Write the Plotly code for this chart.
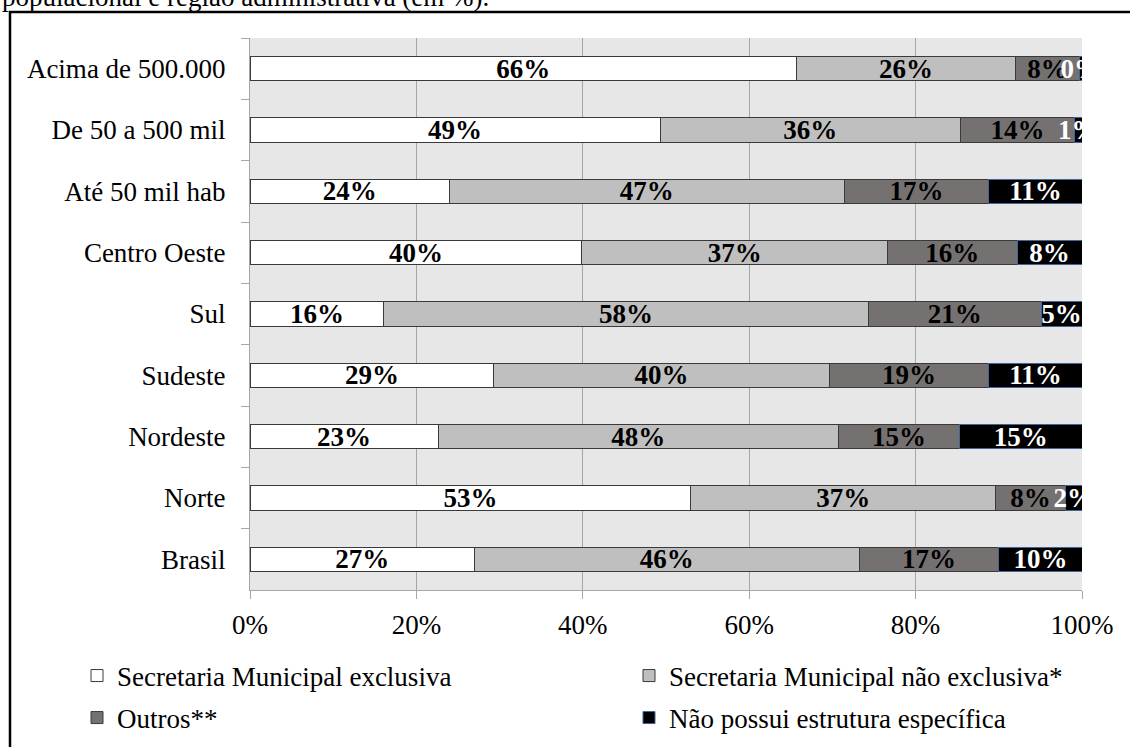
import plotly.graph_objects as go

# Categories, listed from top to bottom of the chart
categories = ["Acima de 500.000", "De 50 a 500 mil", "Até 50 mil hab", "Centro Oeste",
              "Sul", "Sudeste", "Nordeste", "Norte", "Brasil"]

# Share of municipalities (%) by type of management structure
exclusiva = [65.7, 49.3, 24.0, 39.9, 16.1, 29.3, 22.6, 53.0, 27.0]
nao_exclusiva = [26.3, 36.1, 47.4, 36.7, 58.2, 40.3, 48.1, 36.6, 46.2]
outros = [7.7, 13.7, 17.4, 15.6, 20.8, 19.2, 14.6, 8.4, 16.8]
sem_estrutura = [0.3, 0.9, 11.2, 7.8, 4.9, 11.2, 14.7, 2.0, 10.0]

series_names = ["Secretaria Municipal exclusiva", "Secretaria Municipal não exclusiva*",
                "Outros**", "Não possui estrutura específica"]

x_ticks = [0, 20, 40, 60, 80, 100]

FONT = "Liberation Serif, Times New Roman, serif"
W, H = 1130, 747
ML, MR, MT, MB = 250, 48, 38, 157
PW, PH = W - ML - MR, H - MT - MB


def px_x(p):
    return (p - ML) / PW


def px_y(p):
    return (H - MB - p) / PH


series = [
    (series_names[0], exclusiva, "#ffffff", "#3a3a3a", "#000000", "legend"),
    (series_names[1], nao_exclusiva, "#bfbfbf", "#3a3a3a", "#000000", "legend2"),
    (series_names[2], outros, "#767171", "#3a3a3a", "#000000", "legend3"),
    (series_names[3], sem_estrutura, "#000000", "#41649b", "#ffffff", "legend4"),
]

fig = go.Figure()
for name, vals, fill, edge, tcolor, leg in series:
    fig.add_trace(go.Bar(
        y=categories, x=vals, name=name, orientation="h", showlegend=True,
        marker=dict(color=fill, line=dict(color=edge, width=1)),
        texttemplate="%{x:.0f}%", textposition="inside", insidetextanchor="middle",
        textangle=0, constraintext="none", cliponaxis=True,
        textfont=dict(family=FONT, size=27, color=tcolor, weight="bold"),
        legend=leg, hoverinfo="skip",
    ))

legend_common = dict(font=dict(family=FONT, size=27, color="#000000"),
                     bgcolor="rgba(0,0,0,0)", borderwidth=0,
                     xanchor="left", yanchor="middle", orientation="v")

fig.update_layout(
    width=W, height=H,
    margin=dict(l=ML, r=MR, t=MT, b=MB, autoexpand=False),
    paper_bgcolor="#ffffff", plot_bgcolor="#e7e7e7",
    barmode="stack", bargap=0.6, showlegend=True,
    font=dict(family=FONT, size=27, color="#000000"),
    legend=dict(x=px_x(77), y=px_y(676), **legend_common),
    legend2=dict(x=px_x(629), y=px_y(676), **legend_common),
    legend3=dict(x=px_x(77), y=px_y(718), **legend_common),
    legend4=dict(x=px_x(629), y=px_y(718), **legend_common),
    xaxis=dict(range=[0, 100], tickvals=x_ticks, ticktext=[f"{v}%" for v in x_ticks],
               showgrid=True, gridcolor="#a6a6a6", gridwidth=1, zeroline=False,
               showline=True, linecolor="#a6a6a6", linewidth=1,
               ticks="outside", ticklen=8, tickcolor="#a6a6a6",
               tickfont=dict(family=FONT, size=27), ticklabelstandoff=3),
    yaxis=dict(autorange="reversed", showgrid=False, zeroline=False,
               showline=True, linecolor="#a6a6a6", linewidth=1,
               ticks="outside", ticklen=8, tickcolor="#a6a6a6", tickson="boundaries",
               tickfont=dict(family=FONT, size=27), ticklabelstandoff=18),
)

# Outer frame around the figure (runs past the right and bottom edges)
fig.add_shape(type="rect", xref="paper", yref="paper",
              x0=px_x(10), x1=px_x(1145), y0=px_y(12), y1=px_y(770),
              line=dict(color="#000000", width=2.5), fillcolor="rgba(0,0,0,0)", layer="above")

# Caption line above the frame
fig.add_annotation(text="populacional e região administrativa (em %).",
                   xref="paper", yref="paper", x=px_x(0), y=px_y(-3),
                   xanchor="left", yanchor="middle", showarrow=False,
                   font=dict(family=FONT, size=27, color="#000000"))

fig.write_html("out.html")
